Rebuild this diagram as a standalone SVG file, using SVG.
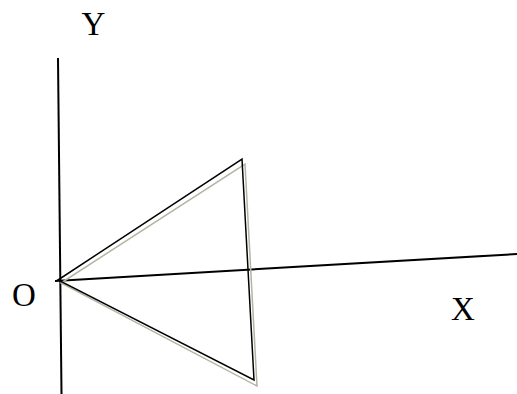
<svg xmlns="http://www.w3.org/2000/svg" width="517" height="394" viewBox="0 0 517 394">
<style>
.lbl{font-family:"Liberation Serif","Times New Roman",serif;font-size:33px;fill:#000}
.ax{stroke:#000;stroke-width:2;fill:none}
.tri{stroke:#000;stroke-width:1.5;fill:none;stroke-linejoin:miter}
.tri2{stroke:#b4b4a4;stroke-width:1.5;fill:none}
</style>
<rect width="517" height="394" fill="#fff"/>
<g id="connectors">
<line class="ax" x1="58" y1="58" x2="61.5" y2="394"/>
<line class="ax" x1="55" y1="281" x2="517" y2="254"/>
</g>
<g id="triangle-shadow">
<polygon class="tri2" points="61,283 245,164 257,386"/>
</g>
<g id="triangle">
<polygon class="tri" points="58,280 242,159 254,380"/>
</g>
<g id="label-Y"><text class="lbl" x="81.5" y="35">Y</text></g>
<g id="label-O"><text class="lbl" x="12" y="306">O</text></g>
<g id="label-X"><text class="lbl" x="451" y="320">X</text></g>
</svg>
